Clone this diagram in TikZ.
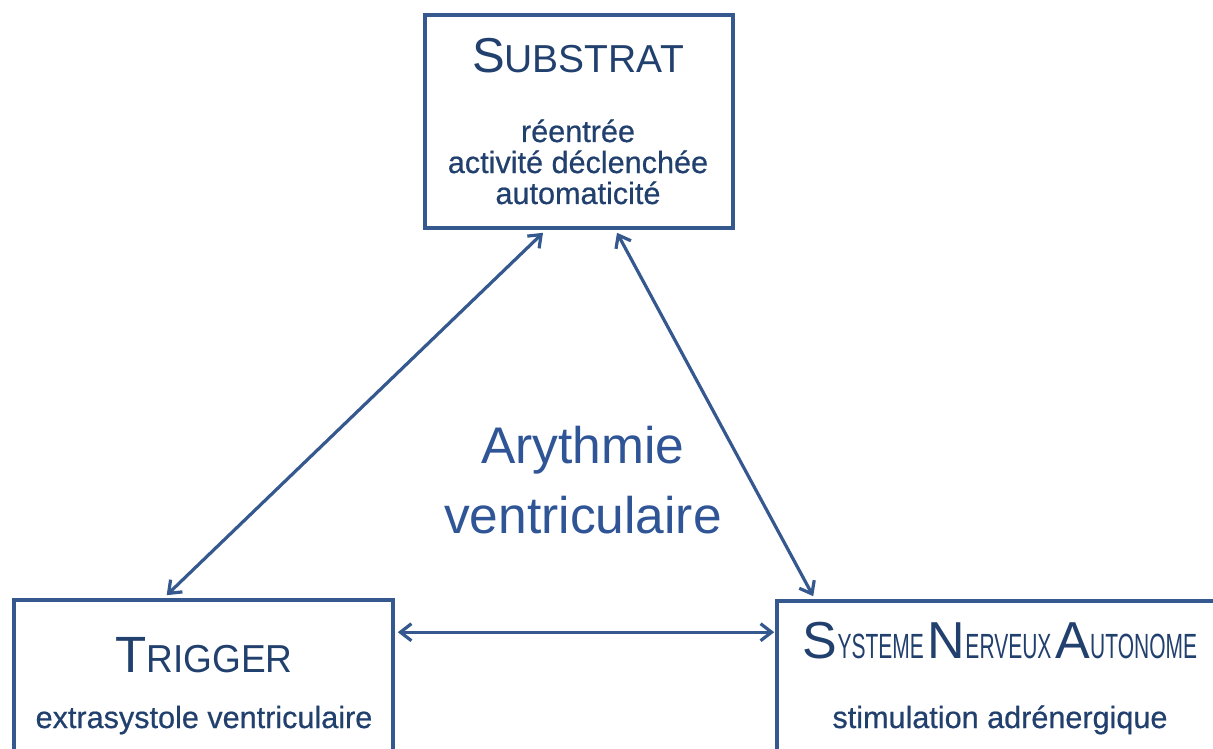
\documentclass[tikz,border=0pt]{standalone}
\usepackage{fontspec}
\setmainfont{Liberation Sans}
\newfontfamily\bodyfont[FakeBold=0.6]{Liberation Sans}
\usetikzlibrary{arrows.meta,calc}
\definecolor{boxline}{HTML}{35598F}
\definecolor{txt}{HTML}{22406E}
\definecolor{arytxt}{HTML}{2F5597}
\newcommand\smw[3]{\scalebox{#3}[1]{\fontsize{#1}{#1}\selectfont #2}}
\begin{document}
\begin{tikzpicture}[x=1pt,y=-1pt,
  box/.style={draw=boxline,line width=3.6pt,rectangle,inner sep=0pt},
  ttl/.style={anchor=base,text=txt,inner sep=0pt},
  body/.style={anchor=base,text=txt,inner sep=0pt,font=\bodyfont\fontsize{30.6}{31}\selectfont},
  conn/.style={draw=boxline,line width=3.2pt,{Straight Barb[length=11pt,width=17pt,line width=3.2pt]}-{Straight Barb[length=11pt,width=17pt,line width=3.2pt]}}]
\useasboundingbox (0,0) rectangle (1213,749);
\clip (0,0) rectangle (1213,749);
\fill[white] (0,0) rectangle (1213,749);
% boxes
\node[box,minimum width=308pt,minimum height=213pt] (sub) at (579,121.5) {};
\node[box,minimum width=379pt,minimum height=220pt] (trig) at (203.5,710) {};
\node[box,minimum width=473pt,minimum height=220pt] (sna) at (1013.5,711) {};
% texts
\node[ttl] (subt) at (578,73) {{\fontsize{49}{49}\selectfont S}{\fontsize{39}{39}\selectfont UBSTRAT}};
\node[body] (sub1) at (578,142) {réentrée};
\node[body] (sub2) at (578,173) {activité déclenchée};
\node[body] (sub3) at (578,204) {automaticité};
\node[ttl] (trigt) at (204,672) {{\fontsize{51}{51}\selectfont T}\scalebox{0.95}[1]{\fontsize{39}{39}\selectfont RIGGER}};
\node[body] (trig1) at (204,728) {extrasystole ventriculaire};
\node[ttl] (snat) at (1000,658) {{\fontsize{52}{52}\selectfont S}\smw{35}{YSTEME}{0.6}\hspace{4pt}{\fontsize{52}{52}\selectfont N}\smw{35}{ERVEUX}{0.6}\hspace{4pt}{\fontsize{52}{52}\selectfont A}\smw{35}{UTONOME}{0.6}};
\node[body] (sna1) at (1000,728) {stimulation adrénergique};
\node[anchor=base,text=arytxt,inner sep=0pt,font=\fontsize{51.5}{52}\selectfont] (ary1) at (583,463) {Arythmie};
\node[anchor=base,text=arytxt,inner sep=0pt,font=\fontsize{51.5}{52}\selectfont] (ary2) at (583,533) {ventriculaire};
% connectors
\draw[conn] ([xshift=-36pt,yshift=-3pt]sub.south) -- ([xshift=154.5pt,yshift=3pt]trig.north west);
\draw[conn] ([xshift=38pt,yshift=-3pt]sub.south) -- ([xshift=38pt,yshift=3pt]sna.north west);
\draw[conn] ([xshift=3pt,yshift=-34pt]trig.north east) -- ([xshift=-1pt,yshift=-33pt]sna.north west);
\end{tikzpicture}
\end{document}
